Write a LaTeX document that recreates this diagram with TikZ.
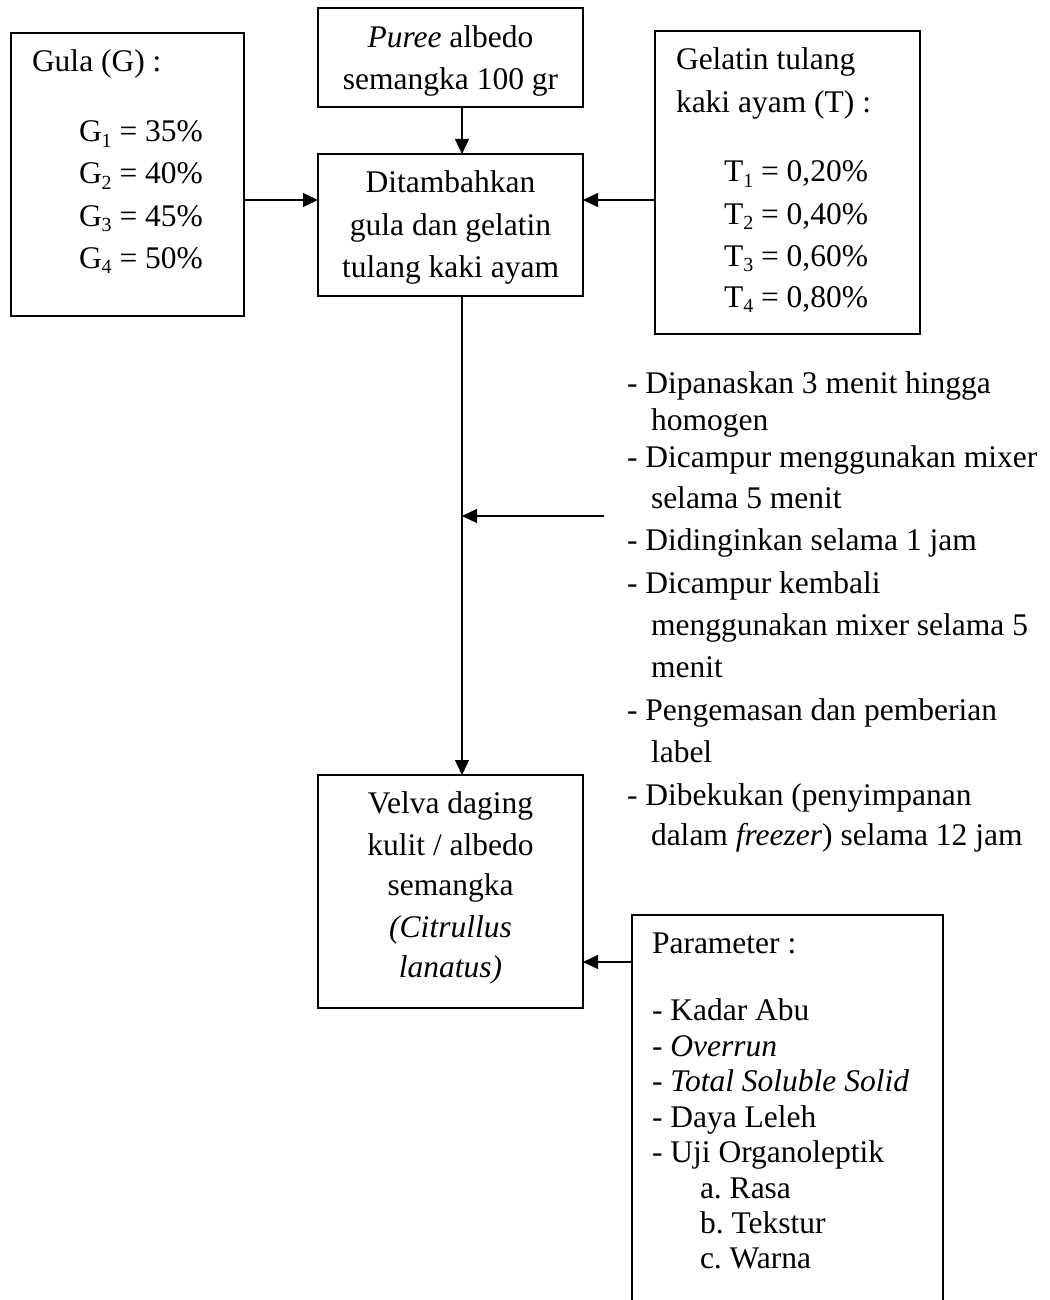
\documentclass[tikz,border=0pt]{standalone}
\usepackage{fontspec}
\setmainfont{Liberation Serif}
\usetikzlibrary{arrows.meta}
\newcommand{\sbx}[1]{\raisebox{-0.16em}{\fontsize{20}{20}\selectfont #1}}
\frenchspacing
\begin{document}
\begin{tikzpicture}[x=1pt,y=-1pt,
  font=\fontsize{31.5}{38}\selectfont\frenchspacing,
  box/.style={draw, line width=1.3pt, inner sep=0pt, outer sep=0pt},
  arr/.style={line width=1.3pt, -{Triangle[length=15pt,width=14pt]}},
  txt/.style={anchor=base west, inner sep=0pt, outer sep=0pt},
  ctxt/.style={anchor=base, inner sep=0pt, outer sep=0pt}]
\useasboundingbox (0,0) rectangle (1049,1300);
\fill[white] (0,0) rectangle (1049,1300);
\clip (0,0) rectangle (1049,1300);

% boxes
\node[box, minimum width=233pt, minimum height=283pt] (gula) at (127.5,174.5) {};
\node[box, minimum width=265pt, minimum height=99pt] (puree) at (450.5,57.5) {};
\node[box, minimum width=265pt, minimum height=142pt] (dit) at (450.5,225) {};
\node[box, minimum width=265pt, minimum height=303pt] (gel) at (787.5,182.5) {};
\node[box, minimum width=265pt, minimum height=233pt] (velva) at (450.5,891.5) {};
\node[box, minimum width=311pt, minimum height=405pt] (param) at (787.5,1117.5) {};

% helper coordinates
\coordinate (mx) at (462,0);
\coordinate (gy) at (0,200);
\coordinate (py) at (0,962);
\coordinate (side) at (604,516);

% connectors
\draw[arr] (puree.south -| mx) -- (dit.north -| mx);
\draw[arr] (gula.east |- gy) -- (dit.west |- gy);
\draw[arr] (gel.west |- gy) -- (dit.east |- gy);
\draw[arr] (dit.south -| mx) -- (velva.north -| mx);
\draw[arr] (side) -- (side -| mx);
\draw[arr] (param.west |- py) -- (velva.east |- py);

% Gula text
\node[txt] (g0) at (32,72) {Gula (G) :};
\node[txt] (g1) at (79,142) {G\sbx{1} = 35\%};
\node[txt] (g2) at (79,184) {G\sbx{2} = 40\%};
\node[txt] (g3) at (79,226) {G\sbx{3} = 45\%};
\node[txt] (g4) at (79,268) {G\sbx{4} = 50\%};

% Puree text
\node[ctxt] (p1) at (450.5,48) {\textit{Puree} albedo};
\node[ctxt] (p2) at (450.5,90) {semangka 100 gr};

% Ditambahkan text
\node[ctxt] (d1) at (450.5,193) {Ditambahkan};
\node[ctxt] (d2) at (450.5,235) {gula dan gelatin};
\node[ctxt] (d3) at (450.5,277) {tulang kaki ayam};

% Gelatin text
\node[txt] (t0a) at (676,70) {Gelatin tulang};
\node[txt] (t0b) at (676,113) {kaki ayam (T) :};
\node[txt] (t1) at (724,182) {T\sbx{1} = 0,20\%};
\node[txt] (t2) at (724,224) {T\sbx{2} = 0,40\%};
\node[txt] (t3) at (724,266) {T\sbx{3} = 0,60\%};
\node[txt] (t4) at (724,307) {T\sbx{4} = 0,80\%};

% process steps
\node[txt] (s1) at (627,393) {- Dipanaskan 3 menit hingga};
\node[txt] (s1b) at (651,430) {homogen};
\node[txt] (s2) at (627,467) {- Dicampur menggunakan mixer};
\node[txt] (s2b) at (651,508) {selama 5 menit};
\node[txt] (s3) at (627,550) {- Didinginkan selama 1 jam};
\node[txt] (s4) at (627,593) {- Dicampur kembali};
\node[txt] (s4b) at (651,635) {menggunakan mixer selama 5};
\node[txt] (s4c) at (651,677) {menit};
\node[txt] (s5) at (627,720) {- Pengemasan dan pemberian};
\node[txt] (s5b) at (651,762) {label};
\node[txt] (s6) at (627,805) {- Dibekukan (penyimpanan};
\node[txt] (s6b) at (651,845) {dalam \textit{freezer}) selama 12 jam};

% Velva text
\node[ctxt] (v1) at (450.5,813) {Velva daging};
\node[ctxt] (v2) at (450.5,855) {kulit / albedo};
\node[ctxt] (v3) at (450.5,895) {semangka};
\node[ctxt] (v4) at (450.5,937) {\textit{(Citrullus}};
\node[ctxt] (v5) at (450.5,977) {\textit{lanatus)}};

% Parameter text
\node[txt] (q0) at (652,953) {Parameter :};
\node[txt] (q1) at (652,1020) {- Kadar Abu};
\node[txt] (q2) at (652,1056) {- \textit{Overrun}};
\node[txt] (q3) at (652,1091) {- \textit{Total Soluble Solid}};
\node[txt] (q4) at (652,1127) {- Daya Leleh};
\node[txt] (q5) at (652,1162) {- Uji Organoleptik};
\node[txt] (q6) at (700,1198) {a. Rasa};
\node[txt] (q7) at (700,1233) {b. Tekstur};
\node[txt] (q8) at (700,1268) {c. Warna};
\end{tikzpicture}
\end{document}
